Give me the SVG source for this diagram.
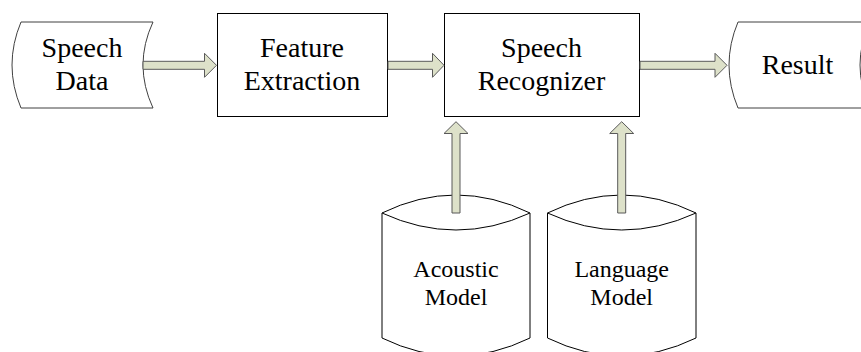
<svg xmlns="http://www.w3.org/2000/svg" width="861" height="352" viewBox="0 0 861 352">
<style>
.shape{fill:#ffffff;stroke:#000000;stroke-width:1}
.data{fill:#ffffff;stroke:#404040;stroke-width:1}
.arrow{fill:#dde1c9;stroke:#595959;stroke-width:1;stroke-linejoin:miter}
.t{font-family:"Liberation Serif","Times New Roman",serif;font-size:28px;fill:#000000;text-anchor:middle}
.s{font-family:"Liberation Serif","Times New Roman",serif;font-size:24px;fill:#000000;text-anchor:middle}
</style>
<rect width="861" height="352" fill="#ffffff"/>
<g id="speech-data">
<path class="data" d="M21,22 L153,22 Q133,65 153,108 L21,108 Q3,65 21,22 Z"/>
<text class="t" x="82" y="57">Speech</text>
<text class="t" x="82" y="90">Data</text>
</g>
<g id="feature-extraction">
<rect class="shape" x="217.5" y="13.5" width="170" height="103"/>
<text class="t" x="302" y="57">Feature</text>
<text class="t" x="302" y="90">Extraction</text>
</g>
<g id="speech-recognizer">
<rect class="shape" x="444.5" y="13.5" width="195" height="103"/>
<text class="t" x="541.5" y="57">Speech</text>
<text class="t" x="541.5" y="90">Recognizer</text>
</g>
<g id="result">
<path class="data" d="M738,22 L870,22 Q850,65 870,108 L738,108 Q720,65 738,22 Z"/>
<text class="t" x="797.5" y="74">Result</text>
</g>
<g id="acoustic-model">
<path class="shape" d="M382,213 Q456,177 530,213 L530,338 Q456,374 382,338 Z"/>
<path class="shape" fill="none" d="M382,213 Q456,247 530,213"/>
<text class="s" x="456" y="277">Acoustic</text>
<text class="s" x="456" y="305">Model</text>
</g>
<g id="language-model">
<path class="shape" d="M547.5,213 Q621.7,177 696,213 L696,338 Q621.7,374 547.5,338 Z"/>
<path class="shape" fill="none" d="M547.5,213 Q621.7,247 696,213"/>
<text class="s" x="621.7" y="277">Language</text>
<text class="s" x="621.7" y="305">Model</text>
</g>
<g id="connectors">
<path class="arrow" d="M143,61.3 L204.5,61.3 L204.5,53.3 L216.5,65.3 L204.5,77.3 L204.5,69.3 L143,69.3 Z"/>
<path class="arrow" d="M388,61.3 L432.5,61.3 L432.5,53.3 L444,65.3 L432.5,77.3 L432.5,69.3 L388,69.3 Z"/>
<path class="arrow" d="M640,61.3 L715,61.3 L715,53.3 L727,65.3 L715,77.3 L715,69.3 L640,69.3 Z"/>
<path class="arrow" d="M452,213 L452,133.5 L444,133.5 L456,121.7 L468,133.5 L460,133.5 L460,213 Z"/>
<path class="arrow" d="M617.7,213 L617.7,133.5 L609.7,133.5 L621.7,121.7 L633.7,133.5 L625.7,133.5 L625.7,213 Z"/>
</g>
</svg>
